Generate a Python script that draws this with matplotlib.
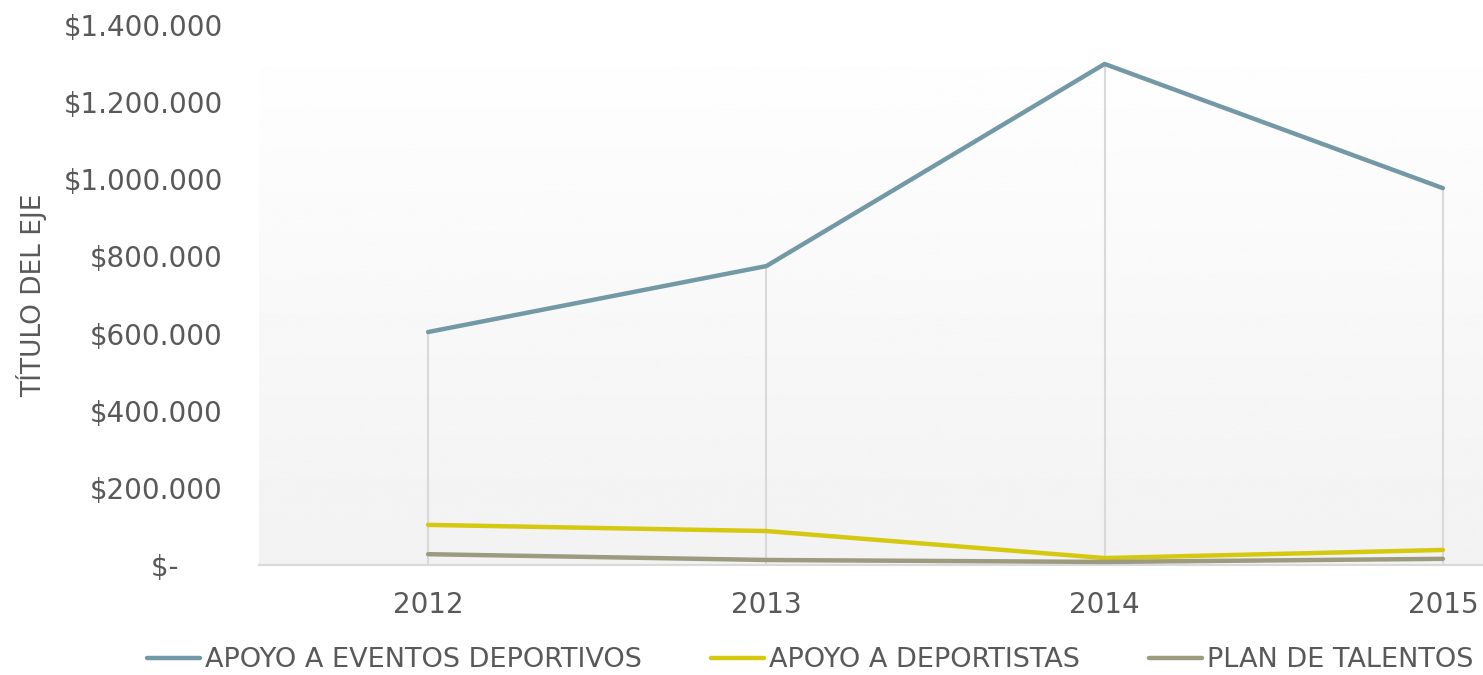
import numpy as np
import matplotlib.pyplot as plt

# Datos
years = ['2012', '2013', '2014', '2015']
eventos = [604000, 775000, 1299000, 977000]
deportistas = [104000, 88000, 18000, 39000]
talentos = [28000, 13000, 8000, 16000]
series_names = ['APOYO A EVENTOS DEPORTIVOS', 'APOYO A DEPORTISTAS', 'PLAN DE TALENTOS']
yticks = [0, 200000, 400000, 600000, 800000, 1000000, 1200000, 1400000]

colors = ['#7399a6', '#d4c90f', '#9c9a7f']
text_color = '#595959'
plt.rcParams['font.family'] = 'DejaVu Sans'

fig = plt.figure(figsize=(14.83, 6.75), dpi=100)
# el area del grafico sigue mas alla del borde derecho (como en la imagen original)
ax = fig.add_axes([259 / 1483, 1 - 565 / 675, (1612 - 259) / 1483, 540 / 675])

x = np.arange(len(years))
ax.set_xlim(-0.5, 3.5)
ax.set_ylim(0, 1400000)

# fondo degradado blanco -> gris claro
grad = np.linspace(1.0, 0.949, 256).reshape(-1, 1)
ax.imshow(grad, cmap='gray', vmin=0, vmax=1, aspect='auto',
          extent=[0, 1, 0, 1], transform=ax.transAxes, zorder=0)

# lineas de proyeccion
tops = np.max([eventos, deportistas, talentos], axis=0)
ax.vlines(x, 0, tops, color='#d9d9d9', lw=1.5, zorder=1)

for vals, name, c in zip([eventos, deportistas, talentos], series_names, colors):
    ax.plot(x, vals, color=c, lw=3.2, label=name, zorder=3,
            solid_capstyle='round', solid_joinstyle='round')

for s in ['top', 'right', 'left']:
    ax.spines[s].set_visible(False)
ax.spines['bottom'].set_color('#d9d9d9')
ax.spines['bottom'].set_linewidth(1.5)
ax.spines['bottom'].set_zorder(2)

def money(v):
    if v == 0:
        return '$-     '
    return '$' + f'{int(v):,}'.replace(',', '.')

ax.set_yticks(yticks)
ax.set_yticklabels([money(v) for v in yticks])
ax.set_xticks(x)
ax.set_xticklabels(years)
ax.tick_params(axis='y', length=0, pad=26, labelsize=20, labelcolor=text_color)
ax.tick_params(axis='x', length=0, pad=19, labelsize=20, labelcolor=text_color)

fig.text(32 / 1483, 1 - 295 / 675, 'TÍTULO DEL EJE', rotation=90,
         ha='center', va='center', fontsize=19, color=text_color)

leg = fig.legend(loc='center', bbox_to_anchor=(810 / 1483, 1 - 660 / 675), ncol=3,
                 frameon=False, fontsize=19.5, handlelength=1.96, handletextpad=0.19,
                 columnspacing=2.55, labelcolor=text_color)

fig.savefig('out.png', dpi=100)
